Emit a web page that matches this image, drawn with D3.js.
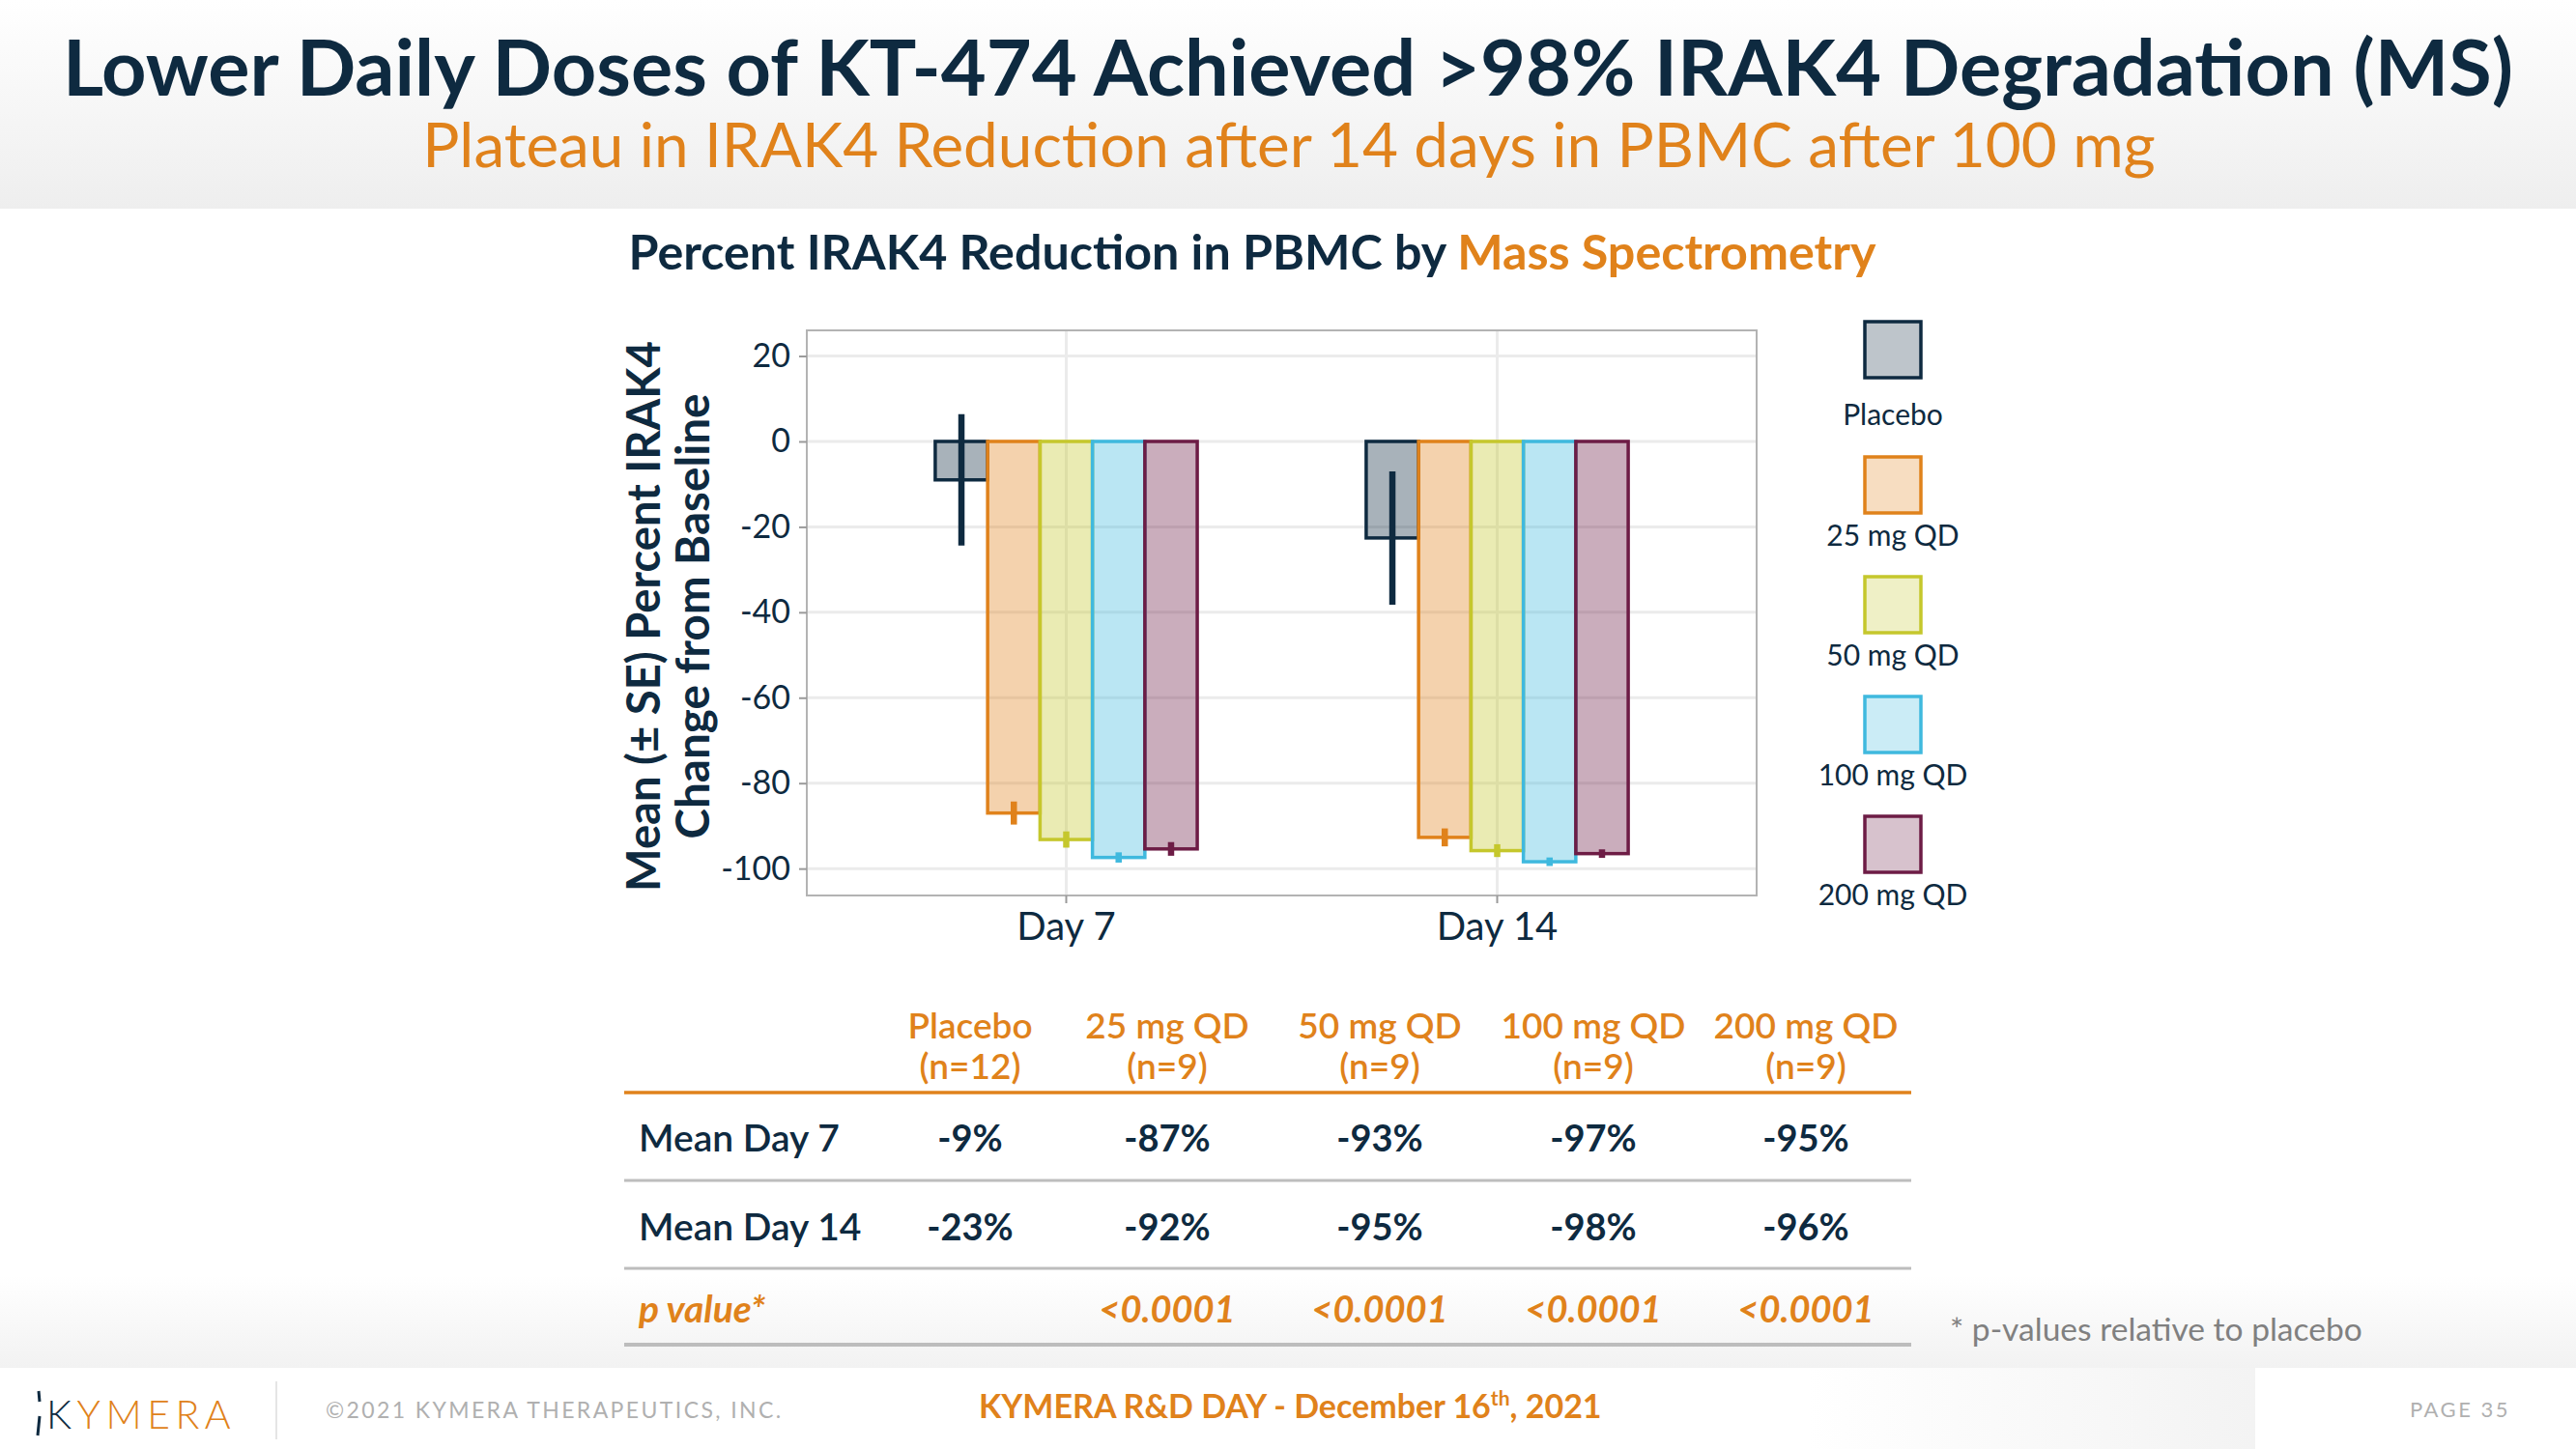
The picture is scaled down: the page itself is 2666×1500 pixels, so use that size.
<!DOCTYPE html>
<html>
<head>
<meta charset="utf-8">
<script src="https://cdn.jsdelivr.net/npm/d3@7"></script>
<style>
  html, body { margin: 0; padding: 0; background: #ffffff; }
  svg { display: block; font-family: Lato, "Open Sans", sans-serif; }
</style>
</head>
<body>
<svg id="chart" width="2666" height="1500"></svg>
<script>
// ---------------- DATA ----------------
const days = ["Day 7", "Day 14"];
const groups = ["Placebo", "25 mg QD", "50 mg QD", "100 mg QD", "200 mg QD"];
const meanDay7 = [-9.0, -87.0, -93.2, -97.4, -95.4];
const seDay7 = [15.4, 2.7, 1.9, 1.2, 1.6];
const meanDay14 = [-22.6, -92.7, -95.8, -98.4, -96.5];
const seDay14 = [15.6, 2.1, 1.5, 1.0, 1.0];
const yTicks = [20, 0, -20, -40, -60, -80, -100];
const groupN = ["(n=12)", "(n=9)", "(n=9)", "(n=9)", "(n=9)"];
const tableDay7 = ["-9%", "-87%", "-93%", "-97%", "-95%"];
const tableDay14 = ["-23%", "-92%", "-95%", "-98%", "-96%"];
const pValues = ["", "<0.0001", "<0.0001", "<0.0001", "<0.0001"];
const rowLabels = ["Mean Day 7", "Mean Day 14", "p value*"];

// ---------------- STYLE ----------------
const NAVY = "#0E2A40";
const ORANGE = "#E0821B";
const groupColors = ["#0E2A40", "#E0821B", "#C5C72C", "#3FB9DE", "#6D1C45"];

const svg = d3.select("#chart");
const defs = svg.append("defs");

function fitWidth(sel, target) {
  const node = sel.node();
  const w = node.getComputedTextLength();
  const fs = parseFloat(sel.attr("font-size"));
  if (w > 0) sel.attr("font-size", (fs * target / w).toFixed(2));
}

// ---------------- BACKGROUNDS ----------------
const gHead = defs.append("linearGradient").attr("id", "gHead").attr("x1", 0).attr("y1", 0).attr("x2", 0).attr("y2", 1);
gHead.append("stop").attr("offset", "0%").attr("stop-color", "#ffffff");
gHead.append("stop").attr("offset", "100%").attr("stop-color", "#eeeeee");
svg.append("rect").attr("x", 0).attr("y", 0).attr("width", 2666).attr("height", 216).attr("fill", "url(#gHead)");

const gBot = defs.append("linearGradient").attr("id", "gBot").attr("x1", 0).attr("y1", 0).attr("x2", 0).attr("y2", 1);
gBot.append("stop").attr("offset", "0%").attr("stop-color", "#ffffff");
gBot.append("stop").attr("offset", "100%").attr("stop-color", "#f2f2f2");
svg.append("rect").attr("x", 0).attr("y", 1320).attr("width", 2666).attr("height", 96).attr("fill", "url(#gBot)");

const gFoot = defs.append("linearGradient").attr("id", "gFoot").attr("x1", 0).attr("y1", 0).attr("x2", 1).attr("y2", 0);
gFoot.append("stop").attr("offset", "0%").attr("stop-color", "#ffffff");
gFoot.append("stop").attr("offset", "100%").attr("stop-color", "#f3f3f3");
svg.append("rect").attr("x", 1870).attr("y", 1416).attr("width", 464).attr("height", 84).attr("fill", "url(#gFoot)");

// ---------------- TITLES ----------------
const title = svg.append("text").attr("x", 1333).attr("y", 99).attr("text-anchor", "middle")
  .attr("font-size", 80).attr("font-weight", 700).attr("fill", NAVY)
  .text("Lower Daily Doses of KT-474 Achieved >98% IRAK4 Degradation (MS)");
fitWidth(title, 2536);

const subtitle = svg.append("text").attr("x", 1334).attr("y", 173).attr("text-anchor", "middle")
  .attr("font-size", 66).attr("font-weight", 400).attr("fill", ORANGE)
  .text("Plateau in IRAK4 Reduction after 14 days in PBMC after 100 mg");
fitWidth(subtitle, 1794);

const ctitle = svg.append("text").attr("x", 1296).attr("y", 279).attr("text-anchor", "middle")
  .attr("font-size", 48).attr("font-weight", 700).attr("fill", NAVY);
ctitle.append("tspan").text("Percent IRAK4 Reduction in PBMC by ");
ctitle.append("tspan").attr("fill", ORANGE).text("Mass Spectrometry");
fitWidth(ctitle, 1291);

// ---------------- CHART ----------------
const plot = { left: 835, right: 1818, top: 342, bottom: 927 };
const y = d3.scaleLinear().domain([-106.3, 26]).range([plot.bottom, plot.top]);
const x0 = d3.scaleBand().domain(days).range([plot.left, plot.right]).paddingInner(0.392).paddingOuter(0.298);
const x1 = d3.scaleBand().domain(groups).range([0, x0.bandwidth()]).padding(0);

const gridG = svg.append("g");
gridG.selectAll("line.h").data(yTicks).join("line")
  .attr("x1", plot.left).attr("x2", plot.right)
  .attr("y1", d => y(d)).attr("y2", d => y(d))
  .attr("stroke", "#ebebeb").attr("stroke-width", 3);
gridG.selectAll("line.v").data(days).join("line")
  .attr("x1", d => x0(d) + x0.bandwidth() / 2).attr("x2", d => x0(d) + x0.bandwidth() / 2)
  .attr("y1", plot.top).attr("y2", plot.bottom)
  .attr("stroke", "#ebebeb").attr("stroke-width", 3);

const series = [
  { day: "Day 7", means: meanDay7, ses: seDay7 },
  { day: "Day 14", means: meanDay14, ses: seDay14 }
];
const barData = [];
series.forEach(s => groups.forEach((g, i) => barData.push({ day: s.day, group: g, i, mean: s.means[i], se: s.ses[i] })));

const barsG = svg.append("g");
barsG.selectAll("rect").data(barData).join("rect")
  .attr("x", d => x0(d.day) + x1(d.group))
  .attr("y", d => Math.min(y(0), y(d.mean)))
  .attr("width", x1.bandwidth())
  .attr("height", d => Math.abs(y(d.mean) - y(0)))
  .attr("fill", d => groupColors[d.i]).attr("fill-opacity", 0.36)
  .attr("stroke", d => groupColors[d.i]).attr("stroke-width", 3.5);

barsG.selectAll("line.err").data(barData).join("line")
  .attr("class", "err")
  .attr("x1", d => x0(d.day) + x1(d.group) + x1.bandwidth() / 2)
  .attr("x2", d => x0(d.day) + x1(d.group) + x1.bandwidth() / 2)
  .attr("y1", d => y(d.mean + d.se)).attr("y2", d => y(d.mean - d.se))
  .attr("stroke", d => groupColors[d.i]).attr("stroke-width", 6.5);

svg.append("rect").attr("x", plot.left).attr("y", plot.top)
  .attr("width", plot.right - plot.left).attr("height", plot.bottom - plot.top)
  .attr("fill", "none").attr("stroke", "#b3b3b3").attr("stroke-width", 2);

const yAxis = svg.append("g").attr("transform", `translate(${plot.left},0)`)
  .call(d3.axisLeft(y).tickValues(yTicks).tickSize(8).tickPadding(9).tickFormat(d => String(d)));
yAxis.select(".domain").remove();
yAxis.selectAll(".tick line").attr("stroke", "#9a9a9a").attr("stroke-width", 2);
yAxis.selectAll(".tick text").attr("font-size", 34).attr("fill", NAVY).attr("font-family", "Lato");

const xAxis = svg.append("g").attr("transform", `translate(0,${plot.bottom})`)
  .call(d3.axisBottom(x0).tickSize(8).tickPadding(10));
xAxis.select(".domain").remove();
xAxis.selectAll(".tick line").attr("stroke", "#9a9a9a").attr("stroke-width", 2);
xAxis.selectAll(".tick text").attr("font-size", 40).attr("fill", NAVY).attr("font-family", "Lato");

// y-axis title
const yt1 = svg.append("text").attr("transform", "translate(683,638) rotate(-90)")
  .attr("text-anchor", "middle").attr("font-size", 46).attr("font-weight", 700).attr("fill", NAVY)
  .text("Mean (\u00B1 SE) Percent IRAK4");
fitWidth(yt1, 570);
const yt2 = svg.append("text").attr("transform", "translate(734,638) rotate(-90)")
  .attr("text-anchor", "middle").attr("font-size", 46).attr("font-weight", 700).attr("fill", NAVY)
  .text("Change from Baseline");
fitWidth(yt2, 461);

// ---------------- LEGEND ----------------
const legendG = svg.append("g");
groups.forEach((g, i) => {
  const top = 333 + (i > 0 ? 140 + (i - 1) * 124 : 0);
  legendG.append("rect").attr("x", 1930).attr("y", top).attr("width", 58).attr("height", 58)
    .attr("fill", groupColors[i]).attr("fill-opacity", 0.27)
    .attr("stroke", groupColors[i]).attr("stroke-width", 3.5);
  legendG.append("text").attr("x", 1959).attr("y", top + (i === 0 ? 107 : 92))
    .attr("text-anchor", "middle").attr("font-size", 30).attr("fill", NAVY).text(g);
});

// ---------------- TABLE ----------------
const colX = [1004, 1208, 1428, 1649, 1869];
const tableG = svg.append("g");
groups.forEach((g, i) => {
  tableG.append("text").attr("x", colX[i]).attr("y", 1075).attr("text-anchor", "middle")
    .attr("font-size", 37).attr("font-weight", 600).attr("fill", ORANGE).text(g);
  tableG.append("text").attr("x", colX[i]).attr("y", 1117).attr("text-anchor", "middle")
    .attr("font-size", 37).attr("font-weight", 600).attr("fill", ORANGE).text(groupN[i]);
});
tableG.append("line").attr("x1", 646).attr("x2", 1978).attr("y1", 1131).attr("y2", 1131)
  .attr("stroke", ORANGE).attr("stroke-width", 3.5);

const rowY = [1192, 1284, 1369];
const rowVals = [tableDay7, tableDay14, pValues];
rowLabels.forEach((lab, r) => {
  const isP = r === 2;
  tableG.append("text").attr("x", 661).attr("y", rowY[r])
    .attr("font-size", 39).attr("font-weight", isP ? 700 : 600)
    .attr("font-style", isP ? "italic" : "normal")
    .attr("fill", isP ? ORANGE : NAVY).text(lab);
  rowVals[r].forEach((v, i) => {
    tableG.append("text").attr("x", colX[i]).attr("y", rowY[r]).attr("text-anchor", "middle")
      .attr("font-size", 38).attr("font-weight", 700)
      .attr("font-style", isP ? "italic" : "normal")
      .attr("fill", isP ? ORANGE : NAVY).text(v);
  });
});
[1222, 1313, 1392].forEach((ly, k) => {
  tableG.append("line").attr("x1", 646).attr("x2", 1978).attr("y1", ly).attr("y2", ly)
    .attr("stroke", "#bdbdbd").attr("stroke-width", k === 2 ? 4 : 3);
});

const fn = svg.append("text").attr("x", 2018).attr("y", 1388).attr("font-size", 33).attr("fill", "#808080")
  .text("* p-values relative to placebo");
fitWidth(fn, 427);

// ---------------- FOOTER ----------------
svg.append("line").attr("x1", 40).attr("x2", 41).attr("y1", 1440).attr("y2", 1451)
  .attr("stroke", NAVY).attr("stroke-width", 3);
svg.append("line").attr("x1", 41).attr("x2", 39).attr("y1", 1466).attr("y2", 1486)
  .attr("stroke", NAVY).attr("stroke-width", 3);
const logo = svg.append("text").attr("x", 48).attr("y", 1479).attr("font-size", 41).attr("font-weight", 300)
  .attr("letter-spacing", 5.5);
logo.append("tspan").attr("fill", NAVY).text("K");
logo.append("tspan").attr("fill", ORANGE).text("YMERA");
svg.append("line").attr("x1", 286).attr("x2", 286).attr("y1", 1430).attr("y2", 1490)
  .attr("stroke", "#dddddd").attr("stroke-width", 1.5);
svg.append("text").attr("x", 337).attr("y", 1468).attr("font-size", 23).attr("fill", "#b0b0b0")
  .attr("letter-spacing", 2.4).text("\u00A92021 KYMERA THERAPEUTICS, INC.");
const ft = svg.append("text").attr("x", 1013).attr("y", 1468).attr("font-size", 34).attr("font-weight", 700).attr("fill", ORANGE);
ft.append("tspan").text("KYMERA R&D DAY - December 16");
ft.append("tspan").attr("font-size", 21).attr("dy", -13).text("th");
ft.append("tspan").attr("dy", 13).text(", 2021");
svg.append("text").attr("x", 2598).attr("y", 1467).attr("text-anchor", "end").attr("font-size", 22)
  .attr("fill", "#b0b0b0").attr("letter-spacing", 2.5).text("PAGE 35");
</script>
</body>
</html>
